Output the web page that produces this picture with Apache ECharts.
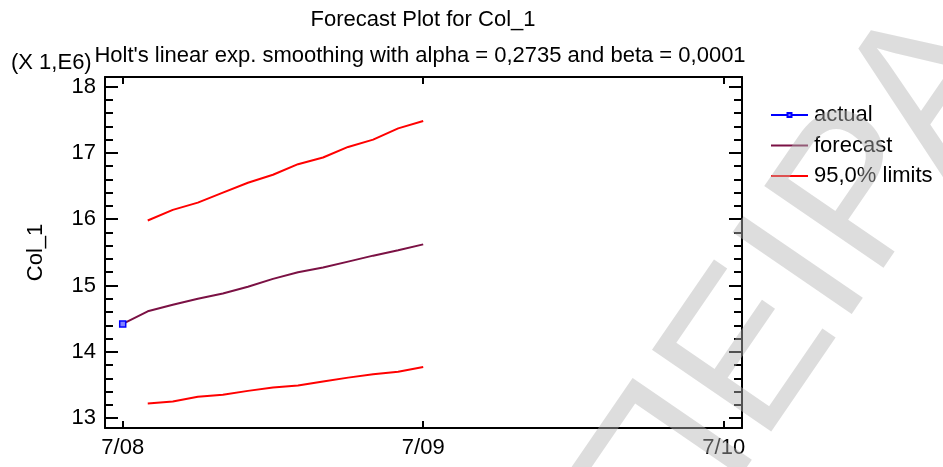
<!DOCTYPE html>
<html>
<head>
<meta charset="utf-8">
<script src="https://cdn.jsdelivr.net/npm/echarts@6/dist/echarts.min.js"></script>
<style>
  html, body { margin: 0; padding: 0; background: #fff; }
  #main { width: 943px; height: 467px; }
</style>
</head>
<body>
<div id="main"></div>
<script>
// months counted from 7/08
var actualMonths = [0];
var actualValues = [14.42];

var forecastMonths = [0, 1, 2, 3, 4, 5, 6, 7, 8, 9, 10, 11, 12];
var forecastValues = [14.42, 14.61, 14.71, 14.80, 14.88, 14.98, 15.10, 15.20, 15.27, 15.36, 15.45, 15.53, 15.62];

var limitMonths = [1, 2, 3, 4, 5, 6, 7, 8, 9, 10, 11, 12];
var upperValues = [15.98, 16.14, 16.25, 16.40, 16.55, 16.67, 16.83, 16.93, 17.09, 17.20, 17.37, 17.48];
var lowerValues = [13.22, 13.25, 13.32, 13.35, 13.41, 13.46, 13.49, 13.55, 13.61, 13.66, 13.70, 13.77];

var xTickMonths = [0, 12, 24];
var xTickLabels = ['7/08', '7/09', '7/10'];
var yTicks = [13, 14, 15, 16, 17, 18];
var yMinorTicks = [];
for (var i = 13; i < 18; i++) {
    [0.2, 0.4, 0.6, 0.8].forEach(function (d) { yMinorTicks.push(+(i + d).toFixed(1)) })
}

function pairs(xs, ys) {
    return xs.map(function (x, k) { return [x, ys[k]] })
}

var FONT = 'Liberation Sans, Arial, sans-serif';
var xMin = -0.707, xMax = 24.73;
var yMin = 12.85, yMax = 18.145;

function xAxisDef(pos, labels) {
    return {
        type: 'value', position: pos, min: xMin, max: xMax,
        axisLine: { show: true, onZero: false, lineStyle: { color: '#000', width: 2 } },
        axisTick: { show: true, inside: true, length: 7, customValues: xTickMonths, lineStyle: { color: '#000', width: 2 } },
        axisLabel: {
            show: labels, customValues: xTickMonths, margin: 9,
            color: '#000', fontSize: 22, fontFamily: FONT,
            formatter: function (v) { return xTickLabels[xTickMonths.indexOf(Math.round(v))] || '' }
        },
        splitLine: { show: false }
    }
}

function yAxisDef(pos, ticks, len, labels, line) {
    var ax = {
        type: 'value', position: pos, min: yMin, max: yMax,
        axisLine: { show: line, onZero: false, lineStyle: { color: '#000', width: 2 } },
        axisTick: { show: true, inside: true, length: len, customValues: ticks, lineStyle: { color: '#000', width: 2 } },
        axisLabel: { show: labels, customValues: ticks, margin: 9, color: '#000', fontSize: 22, fontFamily: FONT },
        splitLine: { show: false }
    };
    if (labels) {
        ax.name = 'Col_1';
        ax.nameLocation = 'middle';
        ax.nameGap = 58;
        ax.nameTextStyle = { color: '#000', fontSize: 22, fontFamily: FONT };
    }
    return ax
}

var myChart = echarts.init(document.getElementById('main'));
myChart.setOption({
    backgroundColor: '#fff',
    animation: false,
    title: [
        { text: 'Forecast Plot for Col_1', left: 423, top: 9, textAlign: 'center', padding: 0,
          textStyle: { fontSize: 22, fontWeight: 'normal', color: '#000', fontFamily: FONT } },
        { text: "Holt's linear exp. smoothing with alpha = 0,2735 and beta = 0,0001", left: 420, top: 45, textAlign: 'center', padding: 0,
          textStyle: { fontSize: 22, fontWeight: 'normal', color: '#000', fontFamily: FONT } },
        { text: '(X 1,E6)', left: 11, top: 52, padding: 0,
          textStyle: { fontSize: 22, fontWeight: 'normal', color: '#000', fontFamily: FONT } }
    ],
    legend: {
        orient: 'vertical', left: 765, top: 99,
        itemWidth: 37, itemHeight: 5, itemGap: 8.5,
        textStyle: { fontSize: 22, color: '#000', fontFamily: FONT, padding: [0, 0, 0, 1] },
        data: [
            { name: 'actual' },
            { name: 'forecast', itemStyle: { opacity: 0 } },
            { name: '95,0% limits', itemStyle: { opacity: 0 } }
        ]
    },
    grid: { left: 105, right: 201, top: 77, bottom: 39 },
    xAxis: [xAxisDef('bottom', true), xAxisDef('top', false)],
    yAxis: [
        yAxisDef('left', yTicks, 13, true, true),
        yAxisDef('left', yMinorTicks, 8, false, false),
        yAxisDef('right', yTicks, 13, false, true),
        yAxisDef('right', yMinorTicks, 8, false, false)
    ],
    series: [
        { name: 'forecast', type: 'line', data: pairs(forecastMonths, forecastValues), symbol: 'none',
          lineStyle: { color: '#7b1144', width: 2 }, itemStyle: { color: '#7b1144' } },
        { name: '95,0% limits', type: 'line', data: pairs(limitMonths, upperValues), symbol: 'none',
          lineStyle: { color: '#ff0000', width: 2 }, itemStyle: { color: '#ff0000' } },
        { name: '95,0% limits', type: 'line', data: pairs(limitMonths, lowerValues), symbol: 'none',
          lineStyle: { color: '#ff0000', width: 2 }, itemStyle: { color: '#ff0000' } },
        { name: 'actual', type: 'line', data: pairs(actualMonths, actualValues), symbol: 'rect', symbolSize: 6, z: 5,
          lineStyle: { color: '#0000ff', width: 2 }, itemStyle: { color: '#8080ff', borderColor: '#0000ff', borderWidth: 1.5 } }
    ],
    graphic: [
        // watermark
        { type: 'text', x: 628, y: 538, rotation: 0.97, z: 100, silent: true,
          style: { text: 'ΠΕΙΡΑΜΑΤΙΚΗ', font: '210px Liberation Sans', fill: 'rgba(180,180,180,0.45)', verticalAlign: 'middle', align: 'left' } }
    ]
});
</script>
</body>
</html>
